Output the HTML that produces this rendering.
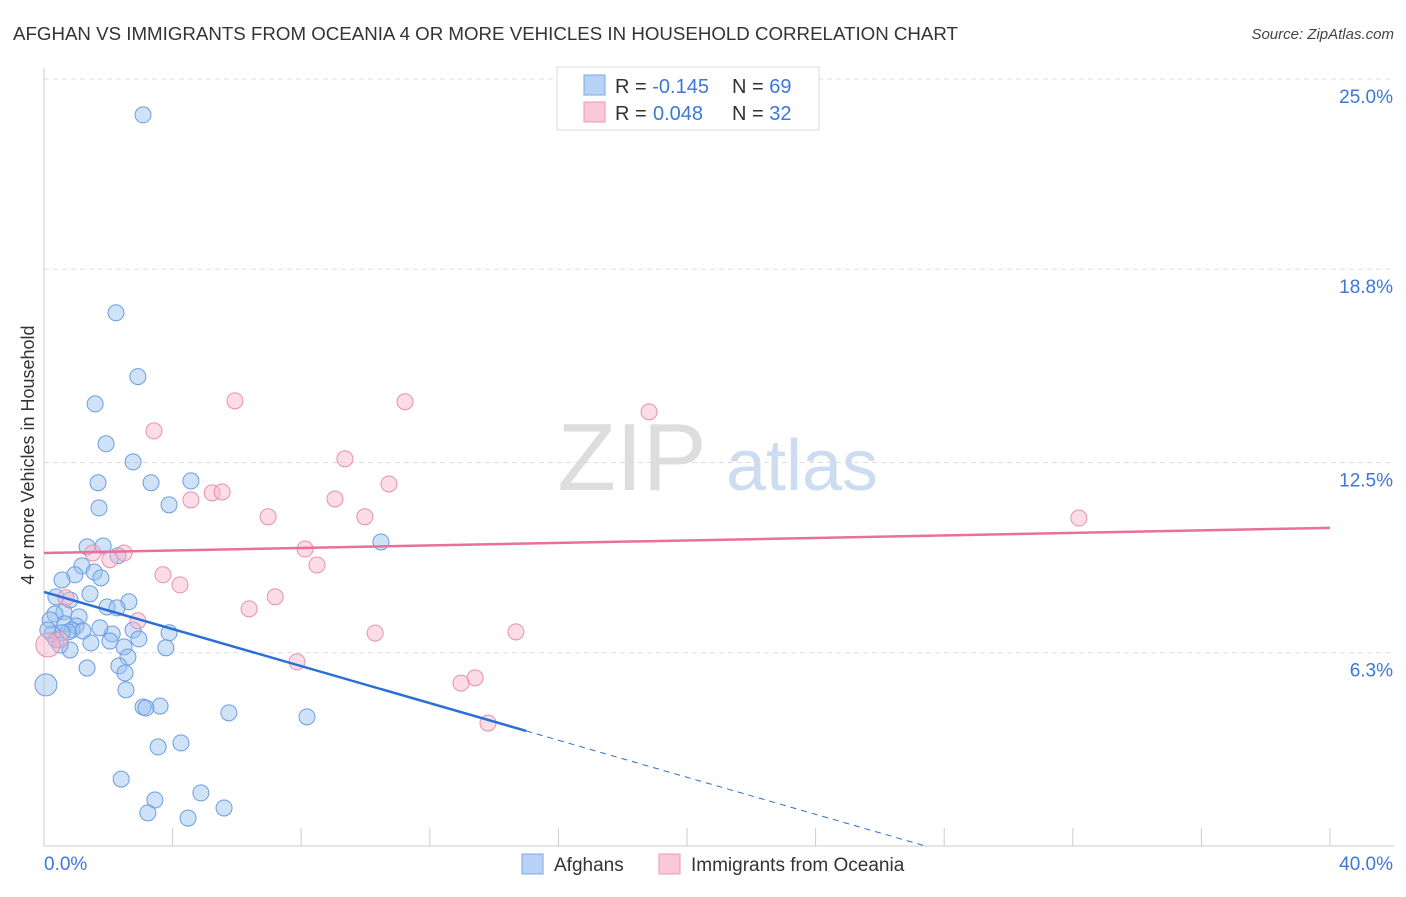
<!DOCTYPE html>
<html><head><meta charset="utf-8"><style>
body{margin:0;background:#fff;font-family:"Liberation Sans",sans-serif;}
svg text{font-family:"Liberation Sans",sans-serif;}
</style></head><body>
<svg id="chart" width="1406" height="892" xmlns="http://www.w3.org/2000/svg">
<text x="13" y="40" font-size="18.6" fill="#333" textLength="945" lengthAdjust="spacingAndGlyphs">AFGHAN VS IMMIGRANTS FROM OCEANIA 4 OR MORE VEHICLES IN HOUSEHOLD CORRELATION CHART</text>
<text x="1394" y="39" font-size="15" fill="#444" text-anchor="end" font-style="italic">Source: ZipAtlas.com</text>
<g>
<text x="632" y="490" font-size="96" fill="#ddd" text-anchor="middle" font-family="Liberation Serif">ZIP</text>
<text x="802" y="490" font-size="72" fill="#cddcf0" text-anchor="middle">atlas</text>
</g>
<g id="grid"></g>
<g id="axes"></g>
<g id="pts"></g>
<g id="trend"></g>
<g>
<rect x="557" y="67" width="262" height="63" fill="#fff" stroke="#ddd"/>
<rect x="584" y="75" width="21" height="20" fill="#b8d2f5" stroke="#7aa8e8"/>
<rect x="584" y="102" width="21" height="20" fill="#fbc8d8" stroke="#ec9ab4"/>
<text x="615" y="93" font-size="20" fill="#333">R = <tspan fill="#3b78d8">-0.145</tspan><tspan x="732">N = </tspan><tspan fill="#3b78d8">69</tspan></text>
<text x="615" y="120" font-size="20" fill="#333">R = <tspan fill="#3b78d8" x="653">0.048</tspan><tspan x="732">N = </tspan><tspan fill="#3b78d8">32</tspan></text>
</g>
<g>
<rect x="522" y="854" width="21" height="20" fill="#b8d2f5" stroke="#7aa8e8"/>
<text x="554" y="871" font-size="19" fill="#333">Afghans</text>
<rect x="659" y="854" width="21" height="20" fill="#fbc8d8" stroke="#ec9ab4"/>
<text x="691" y="871" font-size="19" fill="#333">Immigrants from Oceania</text>
</g>
<text transform="translate(34,455) rotate(-90)" font-size="18" fill="#333" text-anchor="middle">4 or more Vehicles in Household</text>
</svg>
<script>
const yTicks=[25.0,18.8,12.5,6.3];
const yTickLabels=["25.0%","18.8%","12.5%","6.3%"];
const xTickLabels=["0.0%","40.0%"];
const blueX=[3.08,2.24,2.92,1.59,1.93,2.77,1.68,3.33,4.57,1.71,3.89,10.48,1.34,1.84,2.30,1.18,0.96,1.56,1.77,0.56,0.37,1.43,2.64,1.96,2.27,0.62,1.09,0.34,0.65,1.00,0.87,1.21,0.75,0.56,0.25,0.37,2.12,2.77,3.89,2.95,2.05,1.46,2.49,3.79,0.81,2.61,2.33,1.34,2.52,2.55,0.06,3.08,3.61,3.17,5.75,8.18,4.26,3.55,2.40,4.88,3.45,5.60,3.23,4.48,0.19,0.50,0.12,1.74,0.81];
const blueY=[23.83,17.38,15.30,14.41,13.11,12.52,11.84,11.84,11.90,11.02,11.12,9.91,9.75,9.78,9.46,9.13,8.84,8.93,8.74,8.67,8.12,8.22,7.96,7.79,7.76,7.63,7.47,7.56,7.24,7.17,7.04,7.01,6.98,6.95,6.91,6.72,6.91,7.04,6.95,6.75,6.68,6.62,6.49,6.46,6.39,6.16,5.87,5.80,5.64,5.09,5.25,4.53,4.56,4.50,4.34,4.21,3.36,3.23,2.18,1.73,1.50,1.24,1.08,0.91,7.37,6.55,7.04,7.11,8.02];
const pinkX=[5.94,11.23,18.82,3.42,9.36,10.73,9.05,5.23,5.54,4.57,6.97,9.98,32.19,8.12,2.49,1.52,2.05,8.49,3.70,4.23,6.38,7.19,0.68,2.92,10.30,14.68,0.50,7.87,13.41,12.97,13.81,0.12];
const pinkY=[14.51,14.48,14.15,13.53,12.62,11.80,11.31,11.51,11.54,11.28,10.73,10.73,10.69,9.68,9.55,9.55,9.33,9.16,8.84,8.51,7.73,8.12,8.09,7.34,6.94,6.98,6.72,6.00,5.48,5.31,4.01,6.55];
const blueTrend=[8.28,-0.302]; // intercept, slope
const pinkTrend=[9.55,0.0205];
const X0=44,X1=1330,Y0=846,YT=79;
const sx=v=>X0+(X1-X0)*v/40;
const sy=v=>Y0-(Y0-YT)*v/25;
const NS="http://www.w3.org/2000/svg";
function mk(tag,attrs,parent){const e=document.createElementNS(NS,tag);for(const k in attrs)e.setAttribute(k,attrs[k]);parent.appendChild(e);return e;}
const grid=document.getElementById('grid'),axes=document.getElementById('axes'),pts=document.getElementById('pts'),trend=document.getElementById('trend');
yTicks.forEach((t,i)=>{
 const l=mk('line',{x1:X0,x2:1394,y1:sy(t),y2:sy(t),stroke:'#ddd','stroke-dasharray':'5,4'},grid);
 
 
 const tx=mk('text',{x:1393,y:sy(t)+24,'font-size':19,fill:'#3b78d8','text-anchor':'end'},axes);
 tx.textContent=yTickLabels[i];
 
 
});
mk('line',{x1:X0,x2:X0,y1:68,y2:Y0,stroke:'#ccc'},axes);
mk('line',{x1:X0,x2:1394,y1:Y0,y2:Y0,stroke:'#ccc'},axes);
for(let i=0;i<=10;i++){const l=mk('line',{x1:sx(i*4),x2:sx(i*4),y1:828,y2:Y0,stroke:'#ccc'},axes);
 
 }
const xl0=mk('text',{x:44,y:870,'font-size':19,fill:'#3b78d8'},axes);xl0.textContent=xTickLabels[0];


const xl1=mk('text',{x:1393,y:870,'font-size':19,fill:'#3b78d8','text-anchor':'end'},axes);xl1.textContent=xTickLabels[1];


blueX.forEach((v,i)=>{const r=(v<0.1)?11:8;
 const c=mk('circle',{cx:sx(v),cy:sy(blueY[i]),r:r,fill:'rgba(150,190,240,0.45)',stroke:'#6a9de0','stroke-width':1},pts);
 
 });
pinkX.forEach((v,i)=>{const r=(v<0.2)?12:8;
 const c=mk('circle',{cx:sx(v),cy:sy(pinkY[i]),r:r,fill:'rgba(248,180,202,0.45)',stroke:'#e890ad','stroke-width':1},pts);
 
 });
const bf=x=>blueTrend[0]+blueTrend[1]*x;
const pf=x=>pinkTrend[0]+pinkTrend[1]*x;
const b1=mk('line',{x1:sx(0),y1:sy(bf(0)),x2:sx(15),y2:sy(bf(15)),stroke:'#2b6fd6','stroke-width':2.5},trend);


const xe=-blueTrend[0]/blueTrend[1];
const b2=mk('line',{x1:sx(15),y1:sy(bf(15)),x2:sx(xe),y2:sy(0),stroke:'#2b6fd6','stroke-width':1,'stroke-dasharray':'6,5'},trend);


const p1=mk('line',{x1:sx(0),y1:sy(pf(0)),x2:sx(40),y2:sy(pf(40)),stroke:'#e8709a','stroke-width':2.5},trend);


</script>
</body></html>
